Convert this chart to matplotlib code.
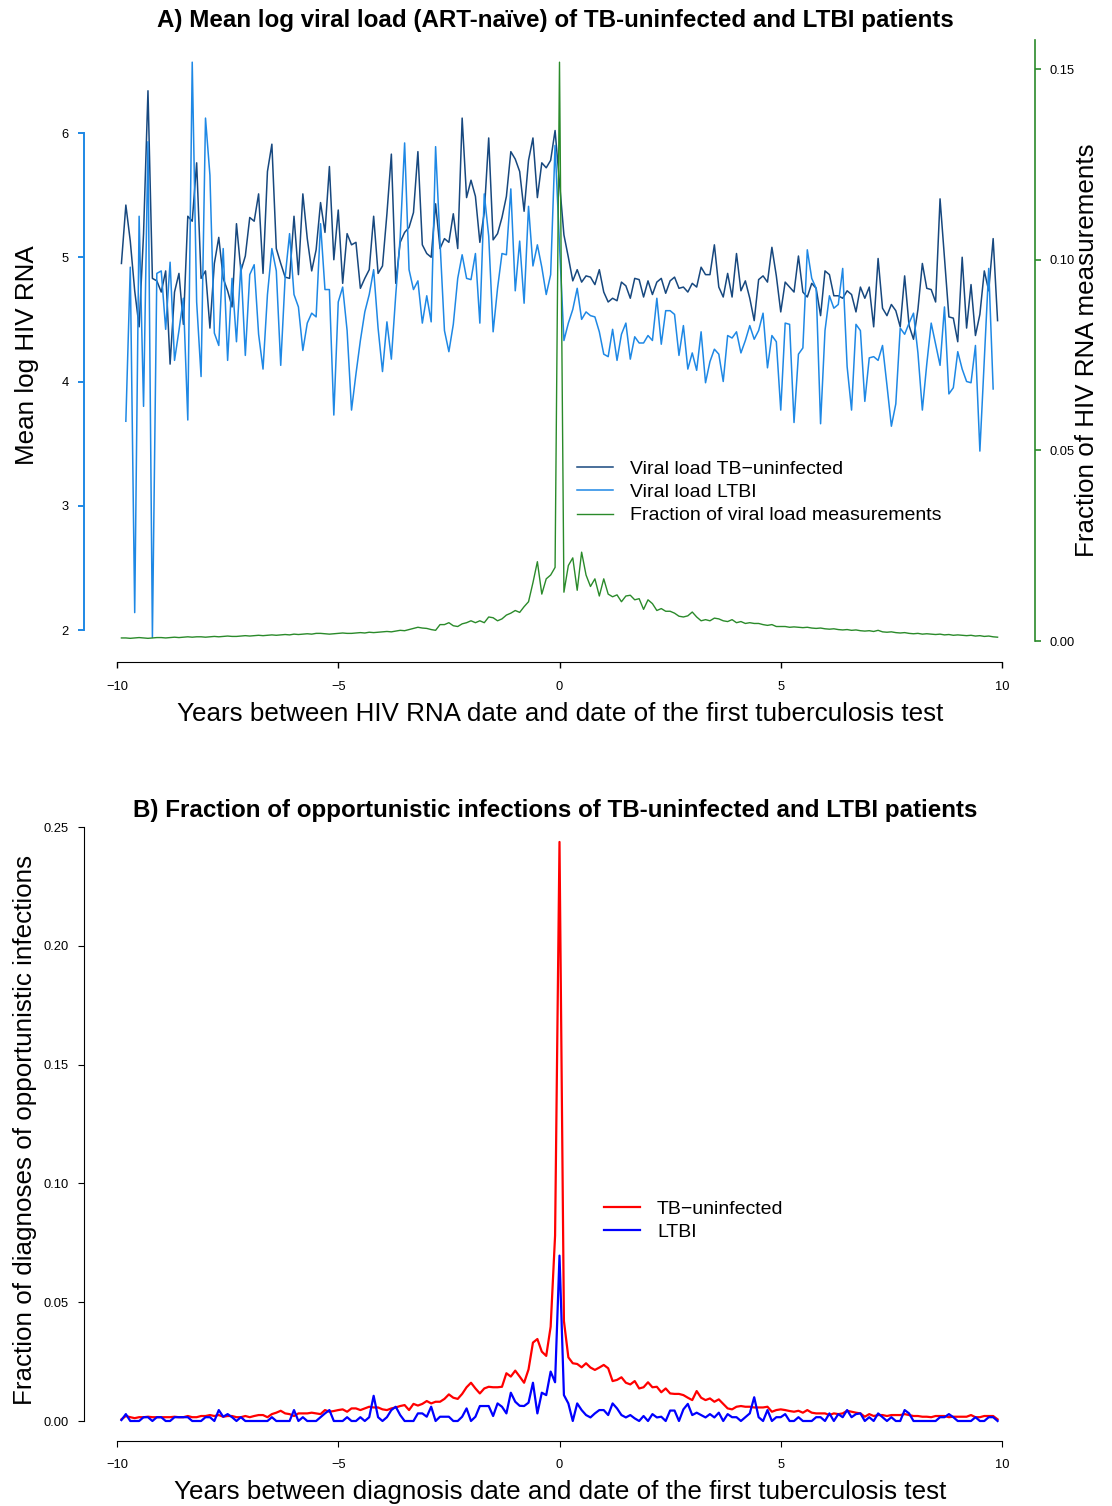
# Two-panel chart: viral load around the first TB test (A) and
# opportunistic infection fractions around the first TB test (B).

import numpy as np
import matplotlib
matplotlib.use("Agg")
import matplotlib.pyplot as plt

plt.rcParams["font.family"] = ["Liberation Sans", "DejaVu Sans"]

W, H, DPI = 1112, 1506, 100

DARK = "#17487f"
LIGHT = "#1e88e5"
GREEN = "#2a8a2a"

# years between measurement and first TB test, 0.1-year steps
years = np.round(np.arange(-99, 100) / 10, 1)

# ── Panel A data ──────────────────────────────────────────────────────────────
vl_uninfected = [
    4.95, 5.42, 5.13, 4.73, 4.44, 5.19, 6.34, 4.83, 4.81, 4.72,
    4.89, 4.14, 4.72, 4.87, 4.46, 5.33, 5.29, 5.76, 4.83, 4.89,
    4.43, 4.95, 5.16, 4.83, 4.73, 4.60, 5.27, 4.89, 5.01, 5.32,
    5.29, 5.51, 4.87, 5.69, 5.91, 5.07, 4.95, 4.84, 4.83, 5.33,
    4.86, 5.51, 5.15, 4.89, 5.06,
    5.44, 5.20, 5.73, 4.98, 5.38, 4.79, 5.19, 5.10, 5.12, 4.75,
    4.83, 4.90, 5.33, 4.87, 4.93, 5.35, 5.83, 4.79, 5.12, 5.20,
    5.24, 5.36, 5.85, 5.10, 5.03, 5.00, 5.43, 5.07, 5.15, 5.12,
    5.35, 5.07, 6.12, 5.48, 5.62, 5.49, 5.12, 5.36, 5.96, 5.14,
    5.19, 5.32, 5.49, 5.85, 5.79, 5.69, 5.37, 5.78, 5.96, 5.48,
    5.76, 5.72, 5.78, 6.02,
    5.60,
    5.18, 5.00, 4.81, 4.90, 4.80, 4.85, 4.84, 4.78, 4.90, 4.72,
    4.64, 4.67, 4.65, 4.80, 4.77, 4.67, 4.83, 4.82, 4.68, 4.81,
    4.70, 4.80, 4.83, 4.71, 4.81, 4.84, 4.75, 4.76, 4.72, 4.79,
    4.76, 4.92, 4.86, 4.86, 5.10, 4.76, 4.68, 4.87, 4.68, 5.03,
    4.73, 4.81, 4.67, 4.49, 4.82, 4.85, 4.80, 5.08, 4.85,
    4.56, 4.80, 4.76, 4.72, 5.01, 4.72, 4.68, 4.79, 4.75, 4.53,
    4.89, 4.86, 4.69, 4.69, 4.67, 4.73, 4.70, 4.56, 4.76, 4.67,
    4.76, 4.44, 4.99, 4.59, 4.53, 4.62, 4.57, 4.44, 4.85, 4.45,
    4.34, 4.58, 4.95, 4.75, 4.74, 4.64, 5.47, 5.00, 4.52, 4.51,
    4.32, 5.00, 4.43, 4.78, 4.37, 4.54, 4.89, 4.73, 5.15, 4.49,
]

vl_ltbi = [
    np.nan,
    3.68, 4.92, 2.14, 5.33, 3.80, 5.93, 1.94, 4.87, 4.89, 4.42,
    4.96, 4.17, 4.41, 4.67, 3.69, 6.57, 4.64, 4.04, 6.12, 5.66,
    4.39, 4.29, 5.07, 4.17, 4.83, 4.32, 4.94, 4.21, 4.86, 4.94,
    4.38, 4.10, 4.70, 5.07, 4.89, 4.13, 4.84, 5.19, 4.70, 4.60,
    4.25, 4.47, 4.55, 4.52,
    5.27, 4.74, 4.74, 3.73, 4.64, 4.76, 4.41, 3.77, 4.06, 4.33,
    4.56, 4.70, 4.90, 4.43, 4.08, 4.48, 4.18, 4.70, 5.16, 5.92,
    4.90, 4.74, 4.81, 4.47, 4.69, 4.48, 5.89, 5.12, 4.41, 4.24,
    4.46, 4.83, 5.02, 4.83, 4.82, 5.03, 4.47, 5.51, 5.17, 4.40,
    4.75, 5.03, 5.02, 5.55, 4.73, 5.13, 4.63, 5.41, 4.93, 5.10,
    4.92, 4.70, 4.86, 5.90,
    5.10,
    4.33, 4.47, 4.58, 4.75, 4.50, 4.56, 4.53, 4.52, 4.40, 4.22,
    4.20, 4.42, 4.17, 4.38, 4.47, 4.18, 4.36, 4.31, 4.31, 4.37,
    4.33, 4.67, 4.30, 4.57, 4.57, 4.54, 4.21, 4.45, 4.10, 4.23,
    4.09, 4.40, 3.99, 4.16, 4.26, 4.22, 4.00, 4.37, 4.35, 4.40,
    4.23, 4.33, 4.45, 4.34, 4.41, 4.55, 4.11, 4.37, 4.32,
    3.77, 4.47, 4.46, 3.67, 4.22, 4.27, 5.06, 4.83, 4.75, 3.66,
    4.41, 4.69, 4.59, 4.62, 4.91, 4.12, 3.77, 4.46, 4.41, 3.84,
    4.19, 4.20, 4.17, 4.29, 3.97, 3.64, 3.82, 4.43, 4.38, 4.47,
    4.55, 4.23, 3.77, 4.14, 4.47, 4.30, 4.13, 4.60, 3.90, 3.95,
    4.24, 4.10, 4.00, 3.99, 4.29, 3.44, 4.18, 4.91, 3.94,
    np.nan,
]

frac_vl = [
    0.0008, 0.0008, 0.0007, 0.0008, 0.0009, 0.0008, 0.0007, 0.0008, 0.0009, 0.0009,
    0.0008, 0.0009, 0.0010, 0.0009, 0.0010, 0.0011, 0.0010, 0.0011, 0.0011, 0.0010,
    0.0011, 0.0012, 0.0011, 0.0012, 0.0013, 0.0012, 0.0012, 0.0013, 0.0014, 0.0013,
    0.0014, 0.0015, 0.0014, 0.0015, 0.0016, 0.0015, 0.0016, 0.0017, 0.0016, 0.0018,
    0.0017, 0.0018, 0.0019, 0.0018, 0.0020,
    0.0020, 0.0019, 0.0018, 0.0019, 0.0020, 0.0021, 0.0020, 0.0020, 0.0021, 0.0022,
    0.0021, 0.0023, 0.0022, 0.0023, 0.0024, 0.0025, 0.0024, 0.0026, 0.0028, 0.0027,
    0.0030, 0.0033, 0.0036, 0.0034, 0.0033, 0.0030, 0.0028, 0.0043, 0.0043, 0.0048,
    0.0040, 0.0038, 0.0045, 0.0048, 0.0053, 0.0048, 0.0053, 0.0048, 0.0063, 0.0061,
    0.0053, 0.0058, 0.0068, 0.0073, 0.0080, 0.0075, 0.0090, 0.0103, 0.0153, 0.0208,
    0.0123, 0.0163, 0.0173,
    0.0193, 0.1518,
    0.0128, 0.0198, 0.0218, 0.0133, 0.0233, 0.0173, 0.0143, 0.0163, 0.0118, 0.0163,
    0.0123, 0.0116, 0.0121, 0.0103, 0.0118, 0.0120, 0.0108, 0.0111, 0.0083, 0.0108,
    0.0098, 0.0080, 0.0085, 0.0078, 0.0078, 0.0073, 0.0065, 0.0063, 0.0066, 0.0076,
    0.0063, 0.0053, 0.0056, 0.0053, 0.0060, 0.0058, 0.0053, 0.0051, 0.0056, 0.0048,
    0.0051, 0.0046, 0.0048, 0.0046, 0.0046, 0.0043, 0.0041, 0.0043, 0.0038, 0.0038,
    0.0038, 0.0036,
    0.0037, 0.0036, 0.0035, 0.0036, 0.0034, 0.0033, 0.0034, 0.0032, 0.0031, 0.0032,
    0.0030, 0.0029, 0.0030, 0.0028, 0.0029, 0.0027, 0.0026, 0.0027, 0.0025, 0.0028,
    0.0024, 0.0023, 0.0024, 0.0022, 0.0021, 0.0022, 0.0020, 0.0019, 0.0020, 0.0018,
    0.0019, 0.0018, 0.0017, 0.0018, 0.0016, 0.0017, 0.0015, 0.0016, 0.0015, 0.0014,
    0.0015, 0.0013, 0.0014, 0.0012, 0.0013, 0.0011, 0.0010,
]

# ── Panel B data ──────────────────────────────────────────────────────────────
oi_uninfected = [
    0.0007, 0.0021, 0.0016, 0.0012, 0.0016, 0.0016, 0.0018, 0.0016, 0.0016, 0.0016,
    0.0016, 0.0016, 0.0018, 0.0016, 0.0016, 0.0021, 0.0016, 0.0016, 0.0021, 0.0021,
    0.0025, 0.0021, 0.0025, 0.0018, 0.0021, 0.0021, 0.0016, 0.0016, 0.0021, 0.0016,
    0.0021, 0.0025, 0.0025, 0.0016, 0.0029, 0.0035, 0.0043, 0.0032, 0.0029, 0.0021,
    0.0032, 0.0032, 0.0032, 0.0035, 0.0032, 0.0029, 0.0046, 0.0039, 0.0042, 0.0046,
    0.0049, 0.0039, 0.0053, 0.0053, 0.0046, 0.0053, 0.0060, 0.0057, 0.0057, 0.0049,
    0.0046,
    0.0053, 0.0057, 0.0063, 0.0067, 0.0046, 0.0072, 0.0065, 0.0072, 0.0084, 0.0074,
    0.0081, 0.0081, 0.0093, 0.0112, 0.0098, 0.0093, 0.0114, 0.0142, 0.0161, 0.0137,
    0.0116, 0.0137, 0.0144, 0.0142, 0.0142, 0.0144, 0.0201, 0.0187, 0.0212, 0.0187,
    0.0161, 0.0217, 0.0330, 0.0345, 0.0292, 0.0274, 0.0397, 0.0780, 0.2437, 0.0421,
    0.0268, 0.0243, 0.0240, 0.0226, 0.0243, 0.0225, 0.0215, 0.0225, 0.0236, 0.0222,
    0.0168, 0.0173, 0.0184, 0.0161, 0.0154, 0.0168, 0.0137, 0.0142, 0.0163, 0.0142,
    0.0144, 0.0121, 0.0137, 0.0116, 0.0114, 0.0114, 0.0109, 0.0098, 0.0088, 0.0126,
    0.0098, 0.0088, 0.0095, 0.0081,
    0.0091, 0.0072, 0.0053, 0.0049, 0.0060, 0.0063, 0.0060, 0.0060, 0.0057, 0.0057,
    0.0057, 0.0060, 0.0039, 0.0046, 0.0049, 0.0046, 0.0042, 0.0039, 0.0043, 0.0035,
    0.0046, 0.0035, 0.0032, 0.0032, 0.0032, 0.0025, 0.0032, 0.0029, 0.0032, 0.0043,
    0.0039, 0.0035, 0.0032, 0.0018, 0.0029, 0.0021, 0.0025, 0.0025, 0.0021, 0.0025,
    0.0025, 0.0025, 0.0029, 0.0025, 0.0021, 0.0021, 0.0018, 0.0018, 0.0016, 0.0021,
    0.0021, 0.0021, 0.0016, 0.0018, 0.0018, 0.0018, 0.0018, 0.0025, 0.0016, 0.0016,
    0.0021, 0.0021, 0.0021, 0.0007,
]

oi_ltbi = [
    0.0004, 0.0029, 0.0000, 0.0000, 0.0000, 0.0016, 0.0016, 0.0000, 0.0016, 0.0016,
    0.0000, 0.0000, 0.0016, 0.0016, 0.0016, 0.0016, 0.0000, 0.0000, 0.0000, 0.0016,
    0.0016, 0.0000, 0.0046, 0.0018, 0.0029, 0.0016, 0.0000, 0.0016, 0.0000, 0.0000,
    0.0000, 0.0000, 0.0000, 0.0000, 0.0016, 0.0000, 0.0000, 0.0000, 0.0000, 0.0046,
    0.0000, 0.0016, 0.0000, 0.0000, 0.0000, 0.0016, 0.0032, 0.0046, 0.0000, 0.0000,
    0.0000, 0.0016, 0.0000, 0.0000, 0.0016, 0.0000, 0.0016, 0.0106, 0.0016, 0.0000,
    0.0016,
    0.0046, 0.0060, 0.0025, 0.0000, 0.0000, 0.0000, 0.0032, 0.0032, 0.0018, 0.0060,
    0.0000, 0.0018, 0.0018, 0.0018, 0.0000, 0.0000, 0.0018, 0.0053, 0.0000, 0.0018,
    0.0063, 0.0063, 0.0063, 0.0021, 0.0074, 0.0060, 0.0032, 0.0119, 0.0081, 0.0064,
    0.0063, 0.0077, 0.0161, 0.0032, 0.0119, 0.0109, 0.0208, 0.0163, 0.0696, 0.0109,
    0.0074, 0.0000, 0.0074, 0.0046, 0.0025, 0.0015, 0.0032, 0.0046, 0.0046, 0.0025,
    0.0074, 0.0053, 0.0025, 0.0015, 0.0025, 0.0011, 0.0000, 0.0021, 0.0000, 0.0029,
    0.0015, 0.0018, 0.0000, 0.0044, 0.0044, 0.0000, 0.0049, 0.0072, 0.0025, 0.0035,
    0.0025, 0.0015, 0.0029, 0.0015,
    0.0035, 0.0000, 0.0029, 0.0016, 0.0016, 0.0000, 0.0016, 0.0032, 0.0100, 0.0016,
    0.0000, 0.0046, 0.0000, 0.0016, 0.0016, 0.0029, 0.0000, 0.0000, 0.0016, 0.0000,
    0.0000, 0.0000, 0.0016, 0.0016, 0.0000, 0.0032, 0.0000, 0.0029, 0.0016, 0.0046,
    0.0016, 0.0029, 0.0032, 0.0000, 0.0016, 0.0000, 0.0032, 0.0016, 0.0000, 0.0016,
    0.0000, 0.0000, 0.0046, 0.0032, 0.0000, 0.0000, 0.0000, 0.0000, 0.0000, 0.0000,
    0.0016, 0.0016, 0.0029, 0.0016, 0.0000, 0.0000, 0.0000, 0.0000, 0.0016, 0.0000,
    0.0000, 0.0016, 0.0016, 0.0000,
]

x_ticks = [-10, -5, 0, 5, 10]


def xs(series):
    return years[: len(series)]


def fbox(left, top, right, bottom):
    """pixel box -> figure fraction rect"""
    return [left / W, 1 - bottom / H, (right - left) / W, (bottom - top) / H]


OUT = 33 * 72 / DPI      # axis offset in points (33 px)
TICK = 6 * 72 / DPI
TITLE_FS = 17.4
LABEL_FS = 18.7
TICK_FS = 9.3
LEG_FS = 14

fig = plt.figure(figsize=(W / DPI, H / DPI), dpi=DPI)

# ── Panel A ───────────────────────────────────────────────────────────────────
ax = fig.add_axes(fbox(117, 40, 1002, 662))
ax.plot(xs(vl_uninfected), vl_uninfected, color=DARK, lw=1.1,
        label="Viral load TB\u2212uninfected")
ax.plot(xs(vl_ltbi), vl_ltbi, color=LIGHT, lw=1.1, label="Viral load LTBI")
ax.set_xlim(-10, 10)
ax.set_ylim(2 - 32 / 124.25, 2 + 590 / 124.25)
for s in ("top", "right"):
    ax.spines[s].set_visible(False)
ax.spines["left"].set_position(("outward", OUT))
ax.spines["left"].set_bounds(2, 6)
ax.spines["left"].set_color(LIGHT)
ax.spines["left"].set_linewidth(1.4)
ax.spines["bottom"].set_bounds(-10, 10)
ax.set_yticks([2, 3, 4, 5, 6])
ax.set_xticks(x_ticks)
ax.tick_params(axis="y", length=TICK, width=1.4, color=LIGHT,
               labelsize=TICK_FS, pad=6.5)
ax.tick_params(axis="x", length=TICK, width=1.0, labelsize=TICK_FS, pad=9)

ax2 = ax.twinx()
ax2.plot(xs(frac_vl), frac_vl, color=GREEN, lw=1.0,
         label="Fraction of viral load measurements")
ax2.set_xlim(-10, 10)
ax2.set_ylim(-21 / 3813, 601 / 3813)
for s in ("top", "left", "bottom"):
    ax2.spines[s].set_visible(False)
ax2.spines["right"].set_position(("outward", OUT))
ax2.spines["right"].set_bounds(0, 601 / 3813)
ax2.spines["right"].set_color(GREEN)
ax2.spines["right"].set_linewidth(1.2)
ax2.set_yticks([0, 0.05, 0.10, 0.15])
ax2.set_yticklabels(["0.00", "0.05", "0.10", "0.15"])
ax2.tick_params(axis="y", length=TICK, width=1.2, color=GREEN,
                labelsize=TICK_FS, pad=6)

h1, l1 = ax.get_legend_handles_labels()
h2, l2 = ax2.get_legend_handles_labels()
ax2.legend(h1 + h2, l1 + l2, loc="upper left", frameon=False,
           bbox_to_anchor=(577 / W, 1 - 460 / H), bbox_transform=fig.transFigure,
           borderpad=0, borderaxespad=0, fontsize=LEG_FS, handlelength=1.85,
           handletextpad=0.88, labelspacing=0.3)

fig.text(555 / W, 1 - 21 / H,
         "A) Mean log viral load (ART-na\u00efve) of TB-uninfected and LTBI patients",
         ha="center", va="center", fontsize=TITLE_FS, fontweight="bold")
fig.text(560 / W, 1 - 714 / H,
         "Years between HIV RNA date and date of the first tuberculosis test",
         ha="center", va="center", fontsize=LABEL_FS)
fig.text(27 / W, 1 - 355 / H, "Mean log HIV RNA", rotation=90,
         ha="center", va="center", fontsize=LABEL_FS)
fig.text(1087 / W, 1 - 350 / H, "Fraction of HIV RNA measurements", rotation=90,
         ha="center", va="center", fontsize=LABEL_FS)

# ── Panel B ───────────────────────────────────────────────────────────────────
bx = fig.add_axes(fbox(117, 820, 1002, 1441))
bx.plot(xs(oi_uninfected), oi_uninfected, color="#ff0000", lw=1.6,
        label="TB\u2212uninfected")
bx.plot(xs(oi_ltbi), oi_ltbi, color="#0000ff", lw=1.6, label="LTBI")
bx.set_xlim(-10, 10)
bx.set_ylim(-20 / 2376, 601 / 2376)
for s in ("top", "right"):
    bx.spines[s].set_visible(False)
bx.spines["left"].set_position(("outward", OUT))
bx.spines["left"].set_bounds(0, 0.25)
bx.spines["bottom"].set_bounds(-10, 10)
bx.set_yticks([0, 0.05, 0.10, 0.15, 0.20, 0.25])
bx.set_yticklabels(["0.00", "0.05", "0.10", "0.15", "0.20", "0.25"])
bx.set_xticks(x_ticks)
bx.tick_params(axis="y", length=TICK, labelsize=TICK_FS, pad=6.5)
bx.tick_params(axis="x", length=TICK, labelsize=TICK_FS, pad=9)
bx.legend(loc="upper left", frameon=False,
          bbox_to_anchor=(604 / W, 1 - 1200 / H), bbox_transform=fig.transFigure,
          borderpad=0, borderaxespad=0, fontsize=LEG_FS, handlelength=1.85,
          handletextpad=0.88, labelspacing=0.3)

fig.text(555 / W, 1 - 811 / H,
         "B) Fraction of opportunistic infections of TB-uninfected and LTBI patients",
         ha="center", va="center", fontsize=TITLE_FS, fontweight="bold")
fig.text(560 / W, 1 - 1492 / H,
         "Years between diagnosis date and date of the first tuberculosis test",
         ha="center", va="center", fontsize=LABEL_FS)
fig.text(25 / W, 1 - 1130 / H, "Fraction of diagnoses of opportunistic infections",
         rotation=90, ha="center", va="center", fontsize=LABEL_FS)

fig.savefig("out.png", dpi=DPI)
